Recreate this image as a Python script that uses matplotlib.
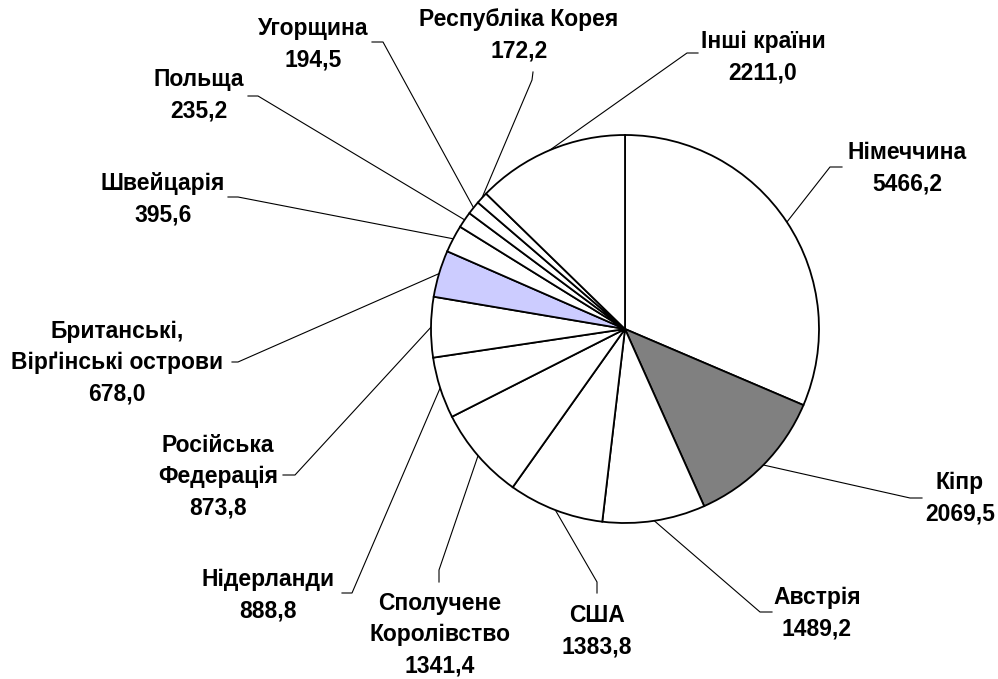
import numpy as np
import matplotlib
matplotlib.use("Agg")
import matplotlib.pyplot as plt

# --- data ---
countries = [
    "Німеччина", "Кіпр", "Австрія", "США", "Сполучене\nКоролівство",
    "Нідерланди", "Російська\nФедерація", "Британські,\nВірґінські острови",
    "Швейцарія", "Польща", "Угорщина", "Республіка Корея", "Інші країни",
]
values = [5466.2, 2069.5, 1489.2, 1383.8, 1341.4, 888.8, 873.8, 678.0,
          395.6, 235.2, 194.5, 172.2, 2211.0]
value_labels = ["5466,2", "2069,5", "1489,2", "1383,8", "1341,4", "888,8",
                "873,8", "678,0", "395,6", "235,2", "194,5", "172,2", "2211,0"]

# --- layout (pixel coords of the 998x679 picture) ---
W, H = 998, 679
center_px = (625, 329)
radius = 194
colors = ["white", "#808080", "white", "white", "white", "white", "white",
          "#CCCCFF", "white", "white", "white", "white", "white"]
# label block centres
label_pos = [(907, 168), (960, 498), (817, 613), (597, 631), (440, 635),
             (268, 595), (218, 477), (117, 363), (163, 199), (199, 95),
             (313, 44), (519, 35), (763, 57)]
# leader line: label end -> elbow (then to wedge middle on the rim)
leader = [((842, 167), (830, 167)), ((922, 498), (910, 498)),
          ((772, 612), (760, 612)), ((597, 593), (597, 582)),
          ((439, 582), (439, 570)), ((342, 593), (352, 593)),
          ((283, 475), (295, 475)), ((232, 362), (238, 362)),
          ((228, 197), (238, 197)), ((248, 96), (258, 96)),
          ((372, 42), (383, 42)), ((533, 72), (532, 80)),
          ((698, 53), (687, 53))]


def px(x, y):
    return x, H - y


plt.rcParams["font.family"] = ["Liberation Sans", "DejaVu Sans"]

fig = plt.figure(figsize=(W / 100, H / 100), dpi=100)
ax = fig.add_axes([0, 0, 1, 1])

cx, cy = px(*center_px)
wedges, _ = ax.pie(values, colors=colors, startangle=90, counterclock=False,
                   center=(cx, cy), radius=radius,
                   wedgeprops=dict(edgecolor="black", linewidth=1.3))
ax.set_xlim(0, W)
ax.set_ylim(0, H)
ax.set_aspect("equal")
ax.axis("off")

for i, w in enumerate(wedges):
    mid = np.deg2rad((w.theta1 + w.theta2) / 2)
    rim = (cx + radius * np.cos(mid), cy + radius * np.sin(mid))
    p0 = px(*leader[i][0])
    p1 = px(*leader[i][1])
    ax.plot([p0[0], p1[0], rim[0]], [p0[1], p1[1], rim[1]],
            color="black", linewidth=0.8, zorder=0)
    lx, ly = px(*label_pos[i])
    ax.text(lx, ly, countries[i] + "\n" + value_labels[i], ha="center",
            va="center", fontsize=16.5, fontweight="bold", linespacing=1.45,
            bbox=dict(facecolor="white", edgecolor="none", pad=0))

fig.savefig("out.png", dpi=100)
